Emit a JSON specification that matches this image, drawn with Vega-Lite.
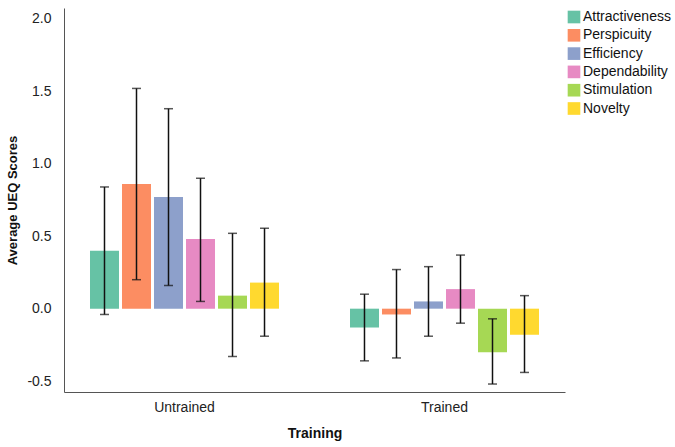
{
  "$schema": "https://vega.github.io/schema/vega-lite/v6.json",
  "width": 501,
  "height": 384,
  "autosize": {"type": "none"},
  "padding": {"left": 64, "top": 8, "right": 110, "bottom": 55},
  "background": "white",
  "config": {
    "view": {"stroke": null},
    "font": "Liberation Sans",
    "legend": {"labelFont": "Liberation Sans"},
    "axis": {"grid": false, "ticks": false, "domainColor": "#555", "domainWidth": 1, "labelFont": "Liberation Sans", "labelFontSize": 14, "labelColor": "#222", "titleFont": "Liberation Sans", "titleFontSize": 14, "titleFontWeight": "bold", "titleColor": "#111"}
  },
  "data": {
    "values": [
      {"training": "Untrained", "scale": "Attractiveness", "mean": 0.40, "lo": -0.04, "hi": 0.84},
      {"training": "Untrained", "scale": "Perspicuity", "mean": 0.86, "lo": 0.20, "hi": 1.52},
      {"training": "Untrained", "scale": "Efficiency", "mean": 0.77, "lo": 0.16, "hi": 1.38},
      {"training": "Untrained", "scale": "Dependability", "mean": 0.48, "lo": 0.05, "hi": 0.90},
      {"training": "Untrained", "scale": "Stimulation", "mean": 0.09, "lo": -0.33, "hi": 0.52},
      {"training": "Untrained", "scale": "Novelty", "mean": 0.18, "lo": -0.19, "hi": 0.555},
      {"training": "Trained", "scale": "Attractiveness", "mean": -0.13, "lo": -0.36, "hi": 0.10},
      {"training": "Trained", "scale": "Perspicuity", "mean": -0.04, "lo": -0.34, "hi": 0.27},
      {"training": "Trained", "scale": "Efficiency", "mean": 0.05, "lo": -0.19, "hi": 0.29},
      {"training": "Trained", "scale": "Dependability", "mean": 0.135, "lo": -0.10, "hi": 0.37},
      {"training": "Trained", "scale": "Stimulation", "mean": -0.30, "lo": -0.52, "hi": -0.07},
      {"training": "Trained", "scale": "Novelty", "mean": -0.18, "lo": -0.44, "hi": 0.09}
    ]
  },
  "encoding": {
    "x": {"field": "training", "type": "nominal", "sort": ["Untrained", "Trained"], "scale": {"paddingInner": 0.273, "paddingOuter": 0.1},
      "axis": {"title": "Training", "labelAngle": 0, "labelPadding": 8, "titlePadding": 12}},
    "xOffset": {"field": "scale", "type": "nominal", "sort": ["Attractiveness", "Perspicuity", "Efficiency", "Dependability", "Stimulation", "Novelty"], "scale": {"paddingInner": 0.094, "paddingOuter": 0}}
  },
  "layer": [
    {
      "mark": {"type": "bar"},
      "encoding": {
        "y": {"field": "mean", "type": "quantitative", "scale": {"domain": [-0.575, 2.075], "nice": false, "zero": false},
          "axis": {"title": "Average UEQ Scores", "titleFontSize": 13, "values": [-0.5, 0, 0.5, 1, 1.5, 2], "labelExpr": "datum.value < 0 ? '-' + format(-datum.value, '.1f') : format(datum.value, '.1f')", "labelPadding": 13, "titlePadding": 7}},
        "y2": {"datum": 0},
        "color": {"field": "scale", "type": "nominal", "sort": ["Attractiveness", "Perspicuity", "Efficiency", "Dependability", "Stimulation", "Novelty"],
          "scale": {"domain": ["Attractiveness", "Perspicuity", "Efficiency", "Dependability", "Stimulation", "Novelty"], "range": ["#66c2a5", "#fc8d62", "#8da0cb", "#e78ac3", "#a6d854", "#ffd92f"]},
          "legend": {"title": null, "orient": "none", "legendX": 503, "legendY": 2, "symbolType": "square", "symbolSize": 160, "symbolStrokeWidth": 0, "symbolOpacity": 1, "labelFontSize": 14, "labelColor": "#111", "rowPadding": 4.3, "labelOffset": 2}}
      }
    },
    {
      "mark": {"type": "rule", "color": "#111", "strokeWidth": 1.5},
      "encoding": {
        "y": {"field": "lo", "type": "quantitative"},
        "y2": {"field": "hi"}
      }
    },
    {
      "mark": {"type": "tick", "color": "#111", "thickness": 1.5, "size": 9},
      "encoding": {"y": {"field": "lo", "type": "quantitative"}}
    },
    {
      "mark": {"type": "tick", "color": "#111", "thickness": 1.5, "size": 9},
      "encoding": {"y": {"field": "hi", "type": "quantitative"}}
    }
  ]
}
